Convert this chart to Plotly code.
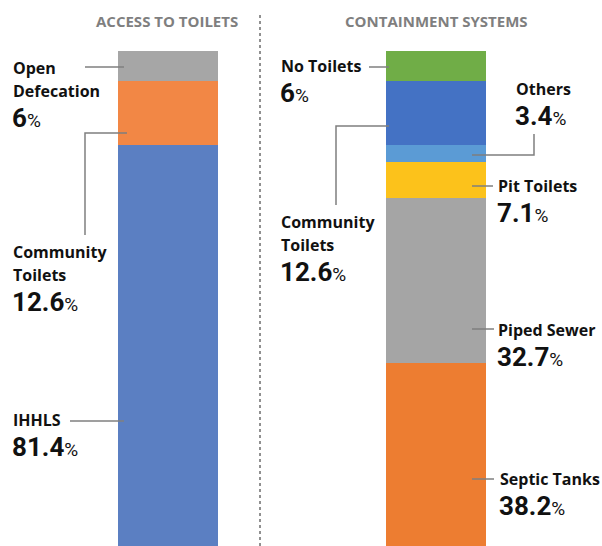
import plotly.graph_objects as go

W, H = 602, 546

groups = ["ACCESS TO TOILETS", "CONTAINMENT SYSTEMS"]

access_labels = ["IHHLS", "Community Toilets", "Open Defecation"]
access_values = [81.4, 12.6, 6.0]
access_colors = ["#5b7fc2", "#f28745", "#a6a6a6"]

contain_labels = ["Septic Tanks", "Piped Sewer", "Pit Toilets", "Others", "Community Toilets", "No Toilets"]
contain_values = [38.2, 32.7, 7.1, 3.4, 12.6, 6.0]
contain_colors = ["#ed7d31", "#a5a5a5", "#fcc21b", "#5b9bd5", "#4472c4", "#70ad47"]

fig = go.Figure()
for lab, v, c in zip(access_labels, access_values, access_colors):
    fig.add_trace(go.Bar(x=[0], y=[v], marker_color=c, marker_line_width=0,
                         width=0.373, name=lab, showlegend=False, hoverinfo="name+y"))
for lab, v, c in zip(contain_labels, contain_values, contain_colors):
    fig.add_trace(go.Bar(x=[1], y=[v], marker_color=c, marker_line_width=0,
                         width=0.373, name=lab, showlegend=False, hoverinfo="name+y"))


def px(x):
    return x / W


def py(y):
    return 1 - y / H


FONT = "Open Sans"
NUMFONT = "Roboto"
DARK = "#111111"
annos = []


def txt(t, x, y, size=16, anchor="left", color=DARK, family=FONT):
    annos.append(dict(text=t, x=px(x), y=py(y), xref="paper", yref="paper",
                      xanchor=anchor, yanchor="middle", showarrow=False,
                      font=dict(family=family, size=size, color=color)))


def label(lines, v, x, y_first):
    y = y_first
    for ln in lines:
        txt("<b>%s</b>" % ln, x + 1, y)
        y += 23
    yp = y - 23 + 26.8
    annos.append(dict(text="<b>%g</b><span style='font-size:19px'>%%</span>" % v,
                      x=px(x), y=py(yp), xref="paper", yref="paper",
                      xanchor="left", yanchor="middle", showarrow=False,
                      font=dict(family=NUMFONT, size=26, color=DARK)))


# titles
txt("<b>" + groups[0] + "</b>", 167, 21, size=15, anchor="center", color="#7f7f7f")
txt("<b>" + groups[1] + "</b>", 436, 21, size=15, anchor="center", color="#7f7f7f")

# left labels
label(["Open", "Defecation"], access_values[2], 10, 68)
label(["Community", "Toilets"], access_values[1], 10, 252)
label(["IHHLS"], access_values[0], 10, 420)

# right labels
label(["No Toilets"], contain_values[5], 278, 66)
label(["Community", "Toilets"], contain_values[4], 278, 222)
label(["Others"], contain_values[3], 513, 89)
label(["Pit Toilets"], contain_values[2], 495, 186)
label(["Piped Sewer"], contain_values[1], 495, 330)
label(["Septic Tanks"], contain_values[0], 497, 479)

shapes = []


def path(points, color="#7f7f7f", width=1.5, dash="solid"):
    d = "M " + " L ".join("%f,%f" % (px(x), py(y)) for x, y in points)
    shapes.append(dict(type="path", path=d, xref="paper", yref="paper",
                       line=dict(color=color, width=width, dash=dash)))


path([(85, 67), (124, 67)])
path([(127, 133), (85, 133), (85, 235)])
path([(70, 421), (124, 421)])
path([(369, 67), (389, 67)])
path([(389, 126), (336, 126), (336, 205)])
path([(472, 155), (534, 155), (534, 134)])
path([(472, 186), (493, 186)])
path([(472, 329), (494, 329)])
path([(472, 479), (494, 479)])
# divider
path([(260, 15), (260, 546)], color="#222222", width=1, dash="dot")

fig.update_layout(
    width=W, height=H, barmode="stack",
    margin=dict(l=0, r=0, t=0, b=0),
    paper_bgcolor="white", plot_bgcolor="white",
    xaxis=dict(range=[-0.627, 1.619], visible=False, fixedrange=True),
    yaxis=dict(range=[2, 110], visible=False, fixedrange=True),
    annotations=annos, shapes=shapes,
)

fig.write_html("out.html")
